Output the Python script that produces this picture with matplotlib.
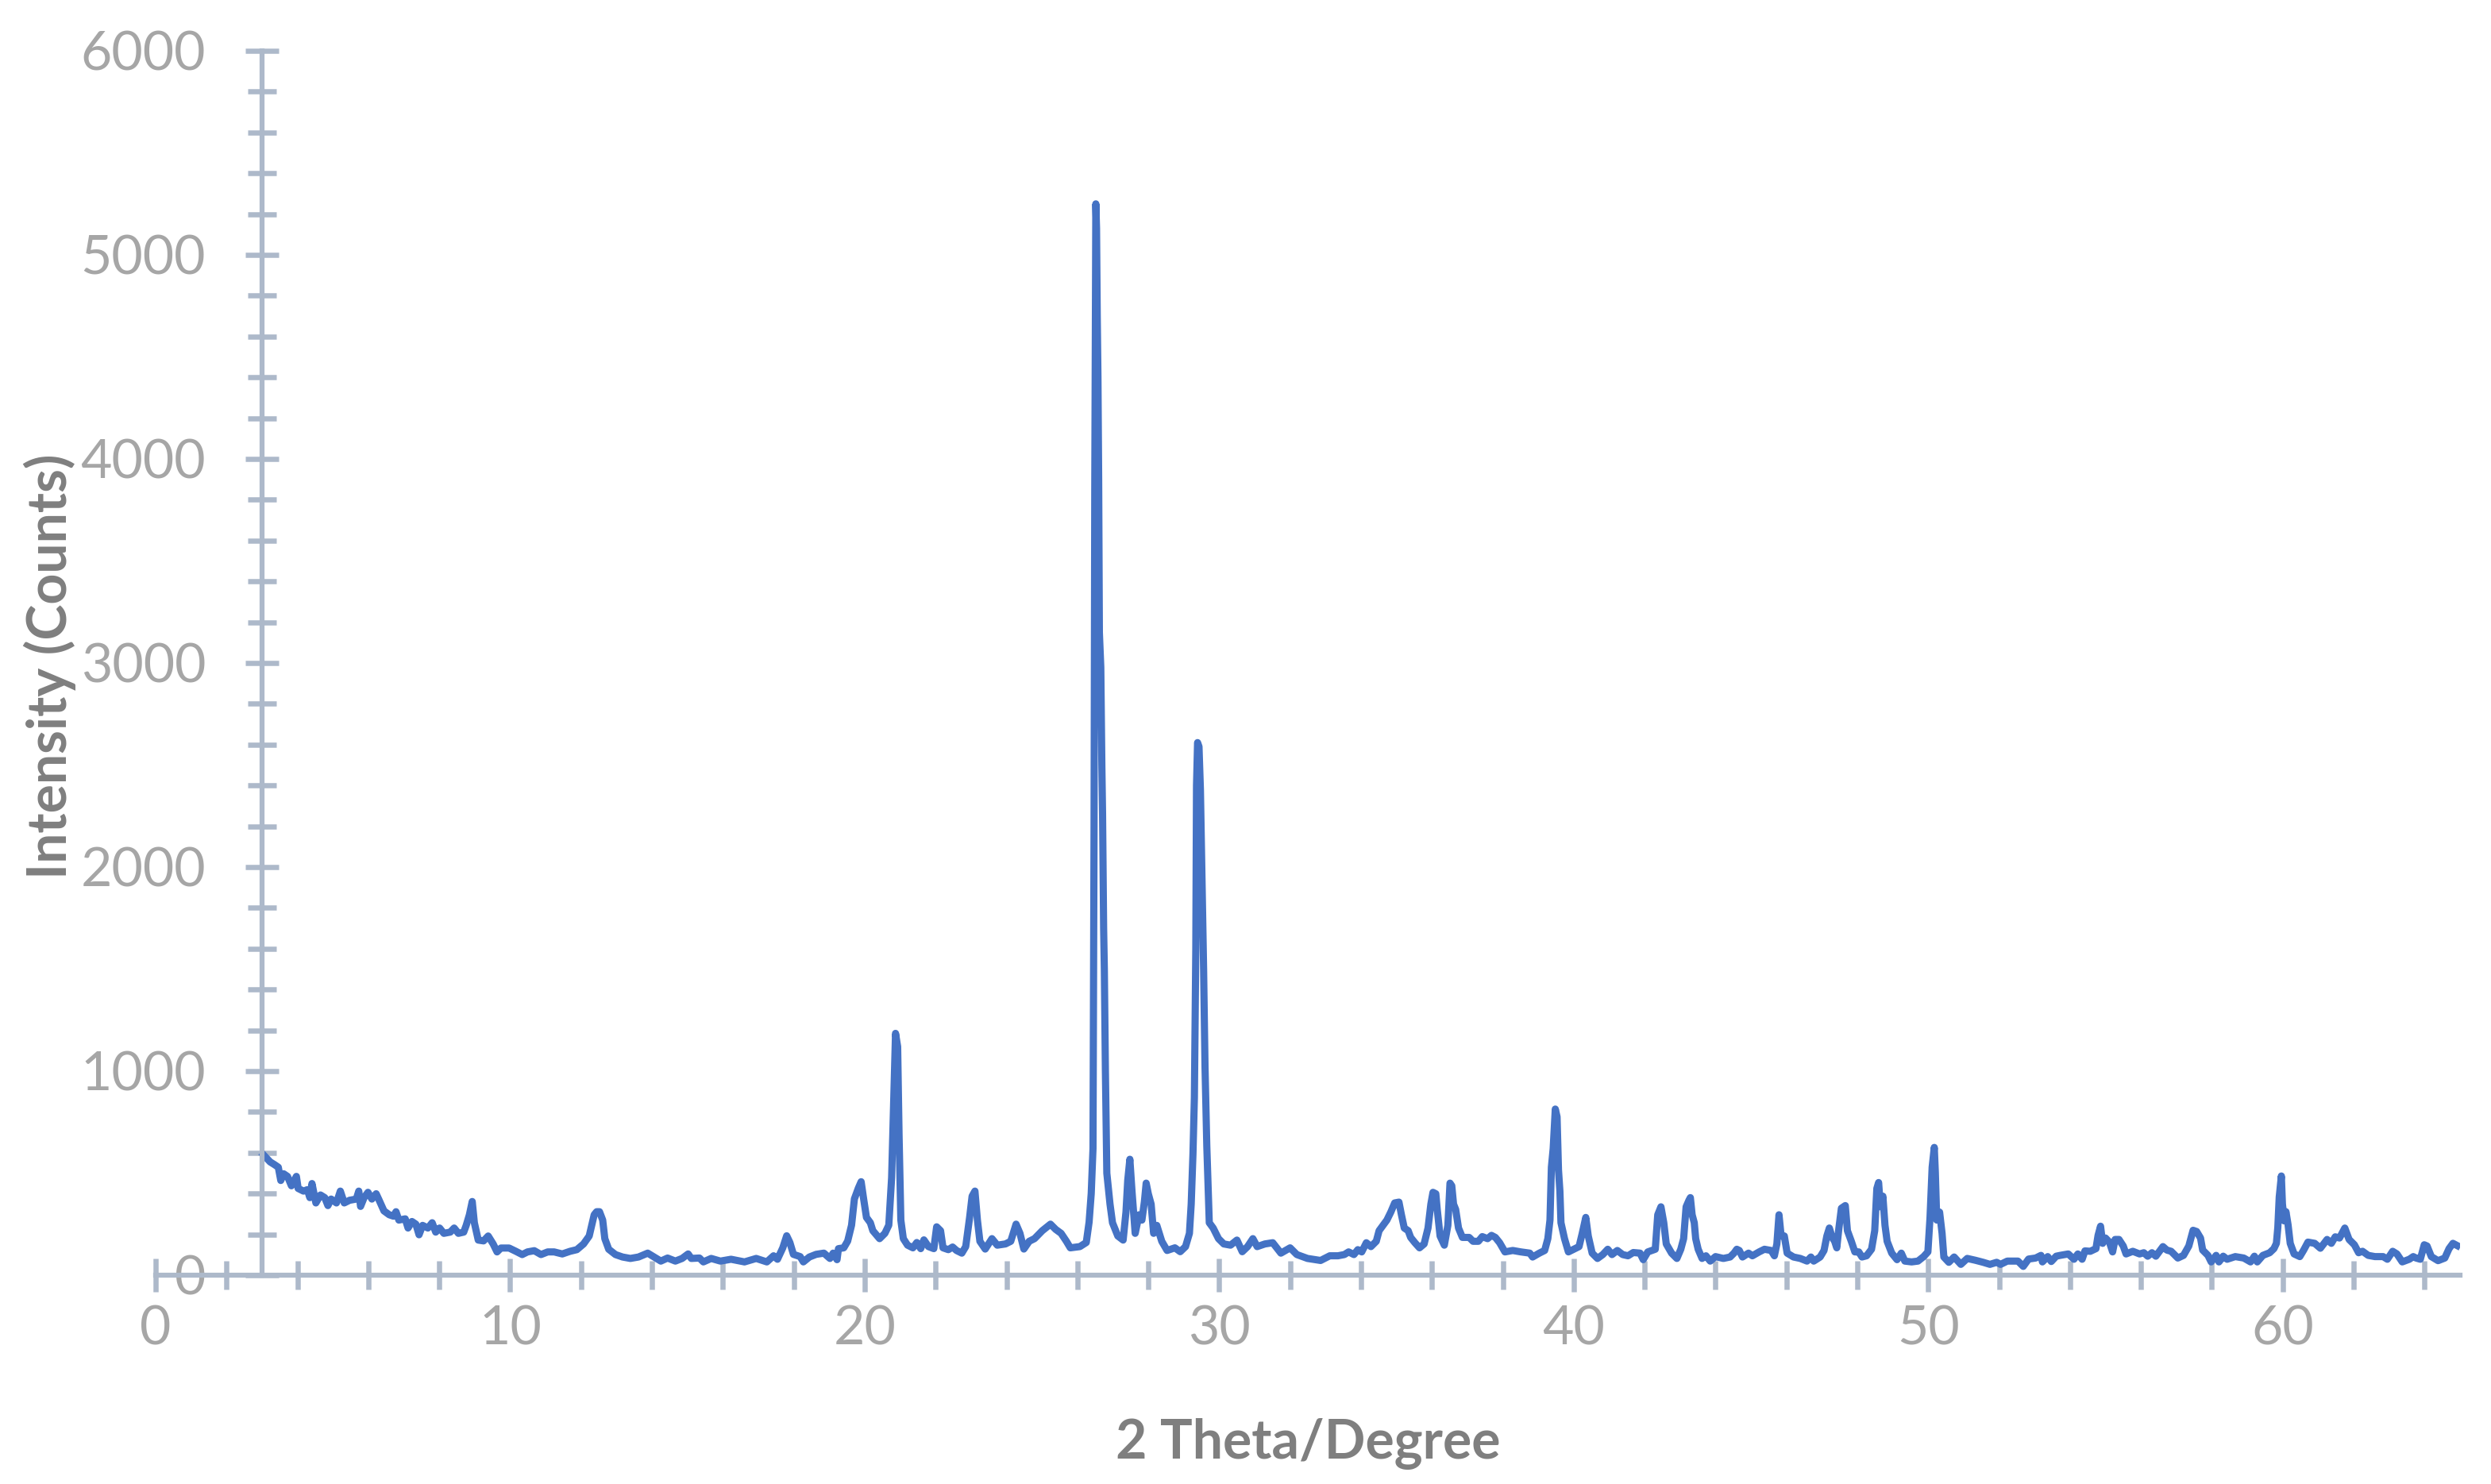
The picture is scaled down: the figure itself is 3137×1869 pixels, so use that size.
import matplotlib
matplotlib.use("Agg")
import matplotlib.pyplot as plt
from matplotlib.ticker import MultipleLocator

# XRD pattern
two_theta = [
    3.04, 3.23, 3.35, 3.46, 3.53, 3.61, 3.72, 3.83, 3.97, 4.02, 4.17, 4.28, 4.35, 4.41, 4.52,
    4.65, 4.77, 4.86, 4.95, 5.10, 5.21, 5.32, 5.47, 5.66, 5.73, 5.78, 5.88, 5.99, 6.10, 6.22,
    6.29, 6.44, 6.59, 6.71, 6.78, 6.86, 7.04, 7.12, 7.23, 7.34, 7.43, 7.53, 7.68, 7.80, 7.90,
    8.01, 8.13, 8.31, 8.42, 8.54, 8.69, 8.76, 8.85, 8.93, 8.99, 9.10, 9.25, 9.38, 9.52, 9.63,
    9.74, 9.97, 10.16, 10.34, 10.49, 10.68, 10.87, 11.06, 11.24, 11.47, 11.69, 11.88, 12.07, 12.23, 12.37,
    12.44, 12.52, 12.61, 12.67, 12.78, 12.97, 13.17, 13.39, 13.62, 13.88, 14.06, 14.25, 14.44, 14.66, 14.85,
    15.02, 15.11, 15.34, 15.45, 15.67, 15.93, 16.23, 16.61, 16.94, 17.24, 17.43, 17.54, 17.69, 17.80, 17.89,
    17.99, 18.18, 18.27, 18.44, 18.63, 18.85, 19.02, 19.11, 19.22, 19.26, 19.41, 19.52, 19.63, 19.71, 19.82,
    19.90, 19.97, 20.05, 20.16, 20.23, 20.42, 20.57, 20.68, 20.76, 20.81, 20.87, 20.93, 20.97, 21.02, 21.09,
    21.21, 21.36, 21.47, 21.58, 21.67, 21.80, 21.95, 22.03, 22.14, 22.21, 22.36, 22.48, 22.59, 22.74, 22.85,
    22.96, 23.03, 23.11, 23.18, 23.25, 23.40, 23.59, 23.74, 23.97, 24.12, 24.27, 24.38, 24.49, 24.64, 24.79,
    25.01, 25.24, 25.39, 25.54, 25.69, 25.80, 26.07, 26.25, 26.33, 26.39, 26.44, 26.47, 26.49, 26.52, 26.54,
    26.56, 26.58, 26.60, 26.62, 26.66, 26.69, 26.71, 26.74, 26.76, 26.79, 26.83, 26.92, 26.99, 27.14, 27.29,
    27.37, 27.42, 27.48, 27.54, 27.63, 27.74, 27.82, 27.89, 27.94, 28.00, 28.08, 28.15, 28.24, 28.38, 28.53,
    28.75, 28.90, 29.05, 29.16, 29.21, 29.26, 29.30, 29.34, 29.36, 29.39, 29.43, 29.47, 29.51, 29.56, 29.60,
    29.65, 29.72, 29.83, 29.98, 30.13, 30.32, 30.50, 30.65, 30.80, 30.95, 31.07, 31.29, 31.51, 31.74, 32.00,
    32.19, 32.49, 32.86, 33.12, 33.35, 33.53, 33.65, 33.80, 33.91, 34.02, 34.15, 34.28, 34.43, 34.51, 34.62,
    34.73, 34.84, 34.95, 35.07, 35.14, 35.22, 35.33, 35.40, 35.52, 35.65, 35.78, 35.89, 35.97, 36.03, 36.11,
    36.15, 36.23, 36.35, 36.45, 36.51, 36.56, 36.61, 36.67, 36.75, 36.86, 37.05, 37.16, 37.31, 37.42, 37.57,
    37.68, 37.79, 37.91, 38.06, 38.28, 38.51, 38.76, 38.84, 39.03, 39.18, 39.27, 39.33, 39.37, 39.42, 39.48,
    39.53, 39.57, 39.61, 39.64, 39.74, 39.85, 40.00, 40.15, 40.24, 40.34, 40.41, 40.52, 40.67, 40.82, 40.96,
    41.08, 41.23, 41.38, 41.53, 41.68, 41.87, 41.96, 42.09, 42.30, 42.37, 42.46, 42.54, 42.61, 42.76, 42.91,
    43.02, 43.10, 43.17, 43.25, 43.29, 43.34, 43.40, 43.44, 43.51, 43.62, 43.73, 43.85, 44.00, 44.22, 44.41,
    44.52, 44.60, 44.67, 44.76, 44.93, 45.04, 45.23, 45.38, 45.57, 45.66, 45.73, 45.79, 45.85, 45.94, 46.02,
    46.20, 46.39, 46.58, 46.69, 46.77, 46.95, 47.06, 47.14, 47.21, 47.29, 47.36, 47.42, 47.48, 47.55, 47.66,
    47.72, 47.83, 47.93, 48.04, 48.13, 48.26, 48.40, 48.49, 48.55, 48.60, 48.65, 48.72, 48.78, 48.84, 48.97,
    49.12, 49.24, 49.34, 49.53, 49.71, 49.87, 49.99, 50.05, 50.11, 50.17, 50.20, 50.24, 50.32, 50.39, 50.44,
    50.58, 50.73, 50.92, 51.10, 51.33, 51.55, 51.74, 51.93, 52.04, 52.23, 52.53, 52.68, 52.83, 53.03, 53.18,
    53.22, 53.37, 53.47, 53.61, 53.72, 53.95, 54.11, 54.22, 54.34, 54.42, 54.57, 54.73, 54.79, 54.86, 54.92,
    55.00, 55.11, 55.20, 55.27, 55.38, 55.50, 55.58, 55.77, 55.96, 56.08, 56.19, 56.31, 56.42, 56.62, 56.73,
    56.85, 57.04, 57.20, 57.35, 57.47, 57.57, 57.68, 57.74, 57.89, 57.98, 58.12, 58.20, 58.32, 58.43, 58.66,
    58.90, 59.09, 59.20, 59.28, 59.44, 59.63, 59.75, 59.82, 59.86, 59.90, 59.96, 59.99, 60.04, 60.09, 60.15,
    60.21, 60.32, 60.48, 60.59, 60.71, 60.90, 61.06, 61.25, 61.37, 61.48, 61.60, 61.75, 61.87, 62.02, 62.14,
    62.25, 62.41, 62.60, 62.83, 62.95, 63.10, 63.22, 63.37, 63.57, 63.68, 63.76, 63.88, 63.99, 64.07, 64.19,
    64.38, 64.57, 64.69, 64.80, 64.92,
]
counts = [
    590, 555, 542, 529, 464, 497, 484, 438, 484, 425, 412, 419, 380, 449, 354,
    393, 380, 341, 373, 354, 412, 354, 367, 373, 412, 337, 380, 406, 373, 399,
    373, 315, 296, 289, 311, 270, 276, 231, 263, 250, 198, 244, 231, 257, 211,
    231, 205, 211, 231, 205, 211, 244, 296, 361, 257, 172, 168, 192, 153, 114,
    133, 133, 117, 101, 114, 120, 101, 114, 114, 104, 117, 125, 153, 192, 296,
    311, 311, 270, 179, 127, 101, 89, 82, 89, 108, 89, 69, 84, 69, 82,
    104, 82, 84, 65, 82, 69, 78, 65, 82, 65, 95, 78, 134, 193, 160,
    102, 91, 65, 89, 102, 108, 82, 108, 76, 130, 134, 167, 245, 374, 426,
    458, 374, 283, 257, 218, 179, 205, 245, 478, 802, 1185, 1120, 685, 270, 179,
    147, 134, 160, 130, 173, 140, 130, 237, 218, 134, 125, 138, 121, 108, 140,
    283, 387, 412, 270, 166, 128, 179, 147, 153, 166, 250, 205, 128, 166, 179,
    218, 250, 224, 205, 166, 134, 140, 160, 260, 400, 620, 2200, 3850, 5250, 5130,
    4700, 4400, 3900, 3150, 2980, 2500, 2260, 1700, 1500, 1000, 500, 348, 257, 192, 172,
    309, 465, 568, 412, 205, 296, 270, 360, 451, 399, 348, 205, 244, 166, 121,
    134, 115, 140, 205, 348, 595, 870, 1600, 2400, 2610, 2590, 2380, 1980, 1500, 1020,
    633, 257, 231, 179, 153, 147, 172, 115, 140, 179, 140, 153, 159, 108, 134,
    101, 82, 72, 95, 95, 101, 114, 101, 125, 114, 159, 140, 166, 218, 244,
    270, 309, 354, 358, 296, 231, 218, 185, 159, 134, 153, 231, 348, 406, 399,
    322, 192, 147, 244, 451, 438, 348, 322, 231, 185, 185, 166, 166, 189, 179,
    195, 185, 159, 114, 121, 114, 108, 89, 108, 121, 179, 270, 529, 620, 814,
    776, 516, 412, 257, 179, 114, 127, 140, 205, 283, 192, 108, 82, 101, 127,
    101, 121, 101, 95, 111, 108, 76, 114, 127, 296, 335, 257, 153, 108, 82,
    127, 179, 335, 367, 380, 296, 257, 179, 127, 82, 95, 69, 91, 82, 89,
    108, 127, 121, 89, 108, 95, 114, 127, 121, 95, 153, 296, 192, 192, 108,
    89, 82, 69, 89, 69, 89, 121, 192, 231, 185, 166, 134, 231, 328, 341,
    218, 166, 114, 114, 89, 95, 127, 218, 425, 454, 335, 387, 244, 166, 108,
    76, 108, 69, 65, 69, 91, 114, 283, 529, 626, 503, 270, 309, 205, 89,
    63, 89, 53, 82, 73, 63, 53, 63, 53, 69, 69, 43, 79, 84, 97,
    65, 91, 67, 93, 97, 104, 78, 104, 78, 119, 117, 130, 195, 240, 156,
    182, 162, 114, 175, 175, 143, 104, 117, 104, 110, 93, 110, 93, 140, 123,
    117, 84, 97, 143, 220, 214, 182, 123, 97, 65, 97, 65, 93, 78, 91,
    84, 65, 93, 65, 97, 110, 130, 156, 233, 383, 486, 350, 266, 311, 246,
    156, 104, 91, 123, 162, 156, 132, 175, 156, 188, 182, 231, 175, 149, 110,
    117, 97, 91, 91, 78, 117, 104, 65, 78, 91, 84, 78, 149, 143, 91,
    71, 84, 130, 156, 145,
]

axis_col = "#ADB9CA"
tick_col = "#A6A6A6"
title_col = "#7F7F7F"

plt.rcParams["font.family"] = ["Lato", "DejaVu Sans"]

fig = plt.figure(figsize=(31.37, 18.69), dpi=100)
ax = fig.add_axes([0.06248, 0.14072, 0.92509, 0.82504])

ax.plot(two_theta, counts, color="#4472C4", lw=6.5, solid_joinstyle="round")

ax.set_xlim(0, 65)
ax.set_ylim(0, 6000)

# eje vertical cruzando en x = 3
ax.spines["top"].set_visible(False)
ax.spines["right"].set_visible(False)
ax.spines["left"].set_position(("data", 3))
for s in ["left", "bottom"]:
    ax.spines[s].set_color(axis_col)
    ax.spines[s].set_linewidth(4.5)

ax.xaxis.set_major_locator(MultipleLocator(10))
ax.xaxis.set_minor_locator(MultipleLocator(2))
ax.yaxis.set_major_locator(MultipleLocator(1000))
ax.yaxis.set_minor_locator(MultipleLocator(200))

ax.tick_params(which="both", direction="inout", color=axis_col, width=4.7,
               labelsize=49, labelcolor=tick_col)
ax.tick_params(which="major", length=30)
ax.tick_params(which="minor", length=26)
ax.tick_params(axis="x", which="major", pad=12)
ax.tick_params(axis="y", which="major", pad=36)

ax.set_xlabel("2 Theta/Degree", fontsize=49, fontweight="bold", color=title_col)
ax.set_ylabel("Intensity (Counts)", fontsize=49, fontweight="bold", color=title_col)
ax.xaxis.set_label_coords(0.5, -0.117)
ax.yaxis.set_label_coords(-0.0345, 0.497)

fig.savefig("out.png", dpi=100)
